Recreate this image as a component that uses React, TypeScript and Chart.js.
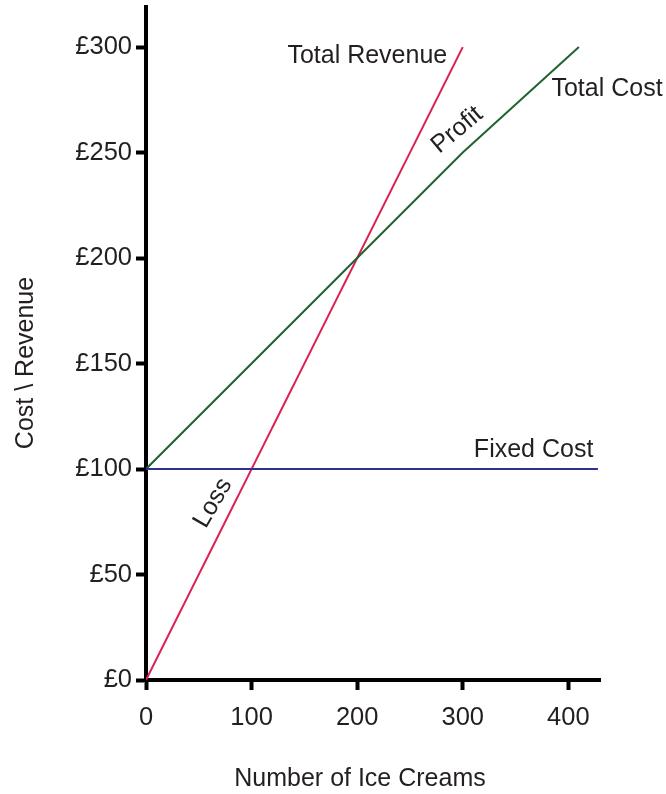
import React, { useEffect, useRef } from 'react';
import { Chart, registerables } from 'chart.js';

Chart.register(...registerables);

// ---- data ----
const revenueX = [0, 300];
const revenueY = [0, 300];
const totalCostX = [0, 300, 410];
const totalCostY = [100, 250, 300];
const fixedCostX = [0, 428];
const fixedCostY = [100, 100];
const xTickValues = [0, 100, 200, 300, 400];
const yTickValues = [0, 50, 100, 150, 200, 250, 300];
const xMaxValue = 430;
const yMaxValue = 319;
const xAxisTitle = 'Number of Ice Creams';
const yAxisTitle = 'Cost \\ Revenue';

const FONT = '"Liberation Sans", Arial, Helvetica, sans-serif';
const TEXT = '#231f20';

const toPoints = (xs: number[], ys: number[]) => xs.map((x, i) => ({ x, y: ys[i] }));

const annotationPlugin = {
  id: 'annotations',
  afterDraw(chart: any) {
    const { ctx } = chart;
    const xs = chart.scales.x;
    const ys = chart.scales.y;
    const items = [
      { text: 'Total Revenue', x: 285.3, y: 292.5, align: 'right', base: 'alphabetic', rot: 0 },
      { text: 'Total Cost', x: 384.0, y: 276.8, align: 'left', base: 'alphabetic', rot: 0 },
      { text: 'Fixed Cost', x: 423.7, y: 105.7, align: 'right', base: 'alphabetic', rot: 0 },
      { text: 'Profit', x: 294.8, y: 260.7, align: 'center', base: 'middle', rot: -40 },
      { text: 'Loss', x: 63.5, y: 83.9, align: 'center', base: 'middle', rot: -60 },
    ];
    ctx.save();
    ctx.fillStyle = TEXT;
    ctx.font = `25px ${FONT}`;
    for (const it of items) {
      const px = xs.getPixelForValue(it.x);
      const py = ys.getPixelForValue(it.y);
      ctx.save();
      ctx.translate(px, py);
      ctx.rotate((it.rot * Math.PI) / 180);
      ctx.textAlign = it.align as CanvasTextAlign;
      ctx.textBaseline = it.base as CanvasTextBaseline;
      ctx.fillText(it.text, 0, 0);
      ctx.restore();
    }
    // axis titles
    ctx.font = `25px ${FONT}`;
    ctx.textAlign = 'center';
    ctx.textBaseline = 'alphabetic';
    ctx.fillText(xAxisTitle, 360, 786);
    ctx.save();
    ctx.translate(33, 363);
    ctx.rotate(-Math.PI / 2);
    ctx.fillText(yAxisTitle, 0, 0);
    ctx.restore();
    ctx.restore();
  },
};

export default function App() {
  const ref = useRef<HTMLCanvasElement | null>(null);
  useEffect(() => {
    if (!ref.current) return;
    const chart = new Chart(ref.current, {
      type: 'scatter',
      data: {
        datasets: [
          {
            label: 'Fixed Cost',
            data: toPoints(fixedCostX, fixedCostY),
            showLine: true,
            borderColor: '#2e3192',
            borderWidth: 2,
            pointRadius: 0,
          },
          {
            label: 'Total Cost',
            data: toPoints(totalCostX, totalCostY),
            showLine: true,
            borderColor: '#1f6331',
            borderWidth: 2,
            pointRadius: 0,
          },
          {
            label: 'Total Revenue',
            data: toPoints(revenueX, revenueY),
            showLine: true,
            borderColor: '#dc1f4f',
            borderWidth: 2,
            pointRadius: 0,
          },
        ],
      },
      options: {
        responsive: false,
        animation: false,
        devicePixelRatio: 1,
        layout: { padding: { left: 0, top: 7, right: 66, bottom: 0 } },
        plugins: { legend: { display: false }, tooltip: { enabled: false } },
        scales: {
          x: {
            type: 'linear',
            min: 0,
            max: xMaxValue,
            afterBuildTicks: (s: any) => {
              s.ticks = xTickValues.map((v) => ({ value: v }));
            },
            afterFit: (s: any) => {
              s.height = 114;
              s.paddingLeft = 0;
              s.paddingRight = 0;
            },
            border: { display: true, color: '#000', width: 4 },
            grid: {
              drawOnChartArea: false,
              drawTicks: true,
              tickLength: 10,
              tickWidth: 4,
              tickColor: '#000',
              color: '#000',
            },
            ticks: {
              color: TEXT,
              padding: 13,
              maxRotation: 0,
              font: { family: FONT, size: 25.5 },
            },
          },
          y: {
            type: 'linear',
            min: 0,
            max: yMaxValue,
            afterBuildTicks: (s: any) => {
              s.ticks = yTickValues.map((v) => ({ value: v }));
            },
            afterFit: (s: any) => {
              s.width = 146;
              s.paddingTop = 0;
              s.paddingBottom = 0;
            },
            border: { display: true, color: '#000', width: 4 },
            grid: {
              drawOnChartArea: false,
              drawTicks: true,
              tickLength: 10,
              tickWidth: 4,
              tickColor: '#000',
              color: '#000',
            },
            ticks: {
              color: TEXT,
              padding: 4,
              font: { family: FONT, size: 25.5 },
              callback: (v: any) => '£' + v,
            },
          },
        },
      },
      plugins: [annotationPlugin],
    });
    return () => chart.destroy();
  }, []);
  return (
    <div style={{ position: 'absolute', left: 0, top: 0, width: 666, height: 794 }}>
      <canvas ref={ref} width={666} height={794} />
    </div>
  );
}
